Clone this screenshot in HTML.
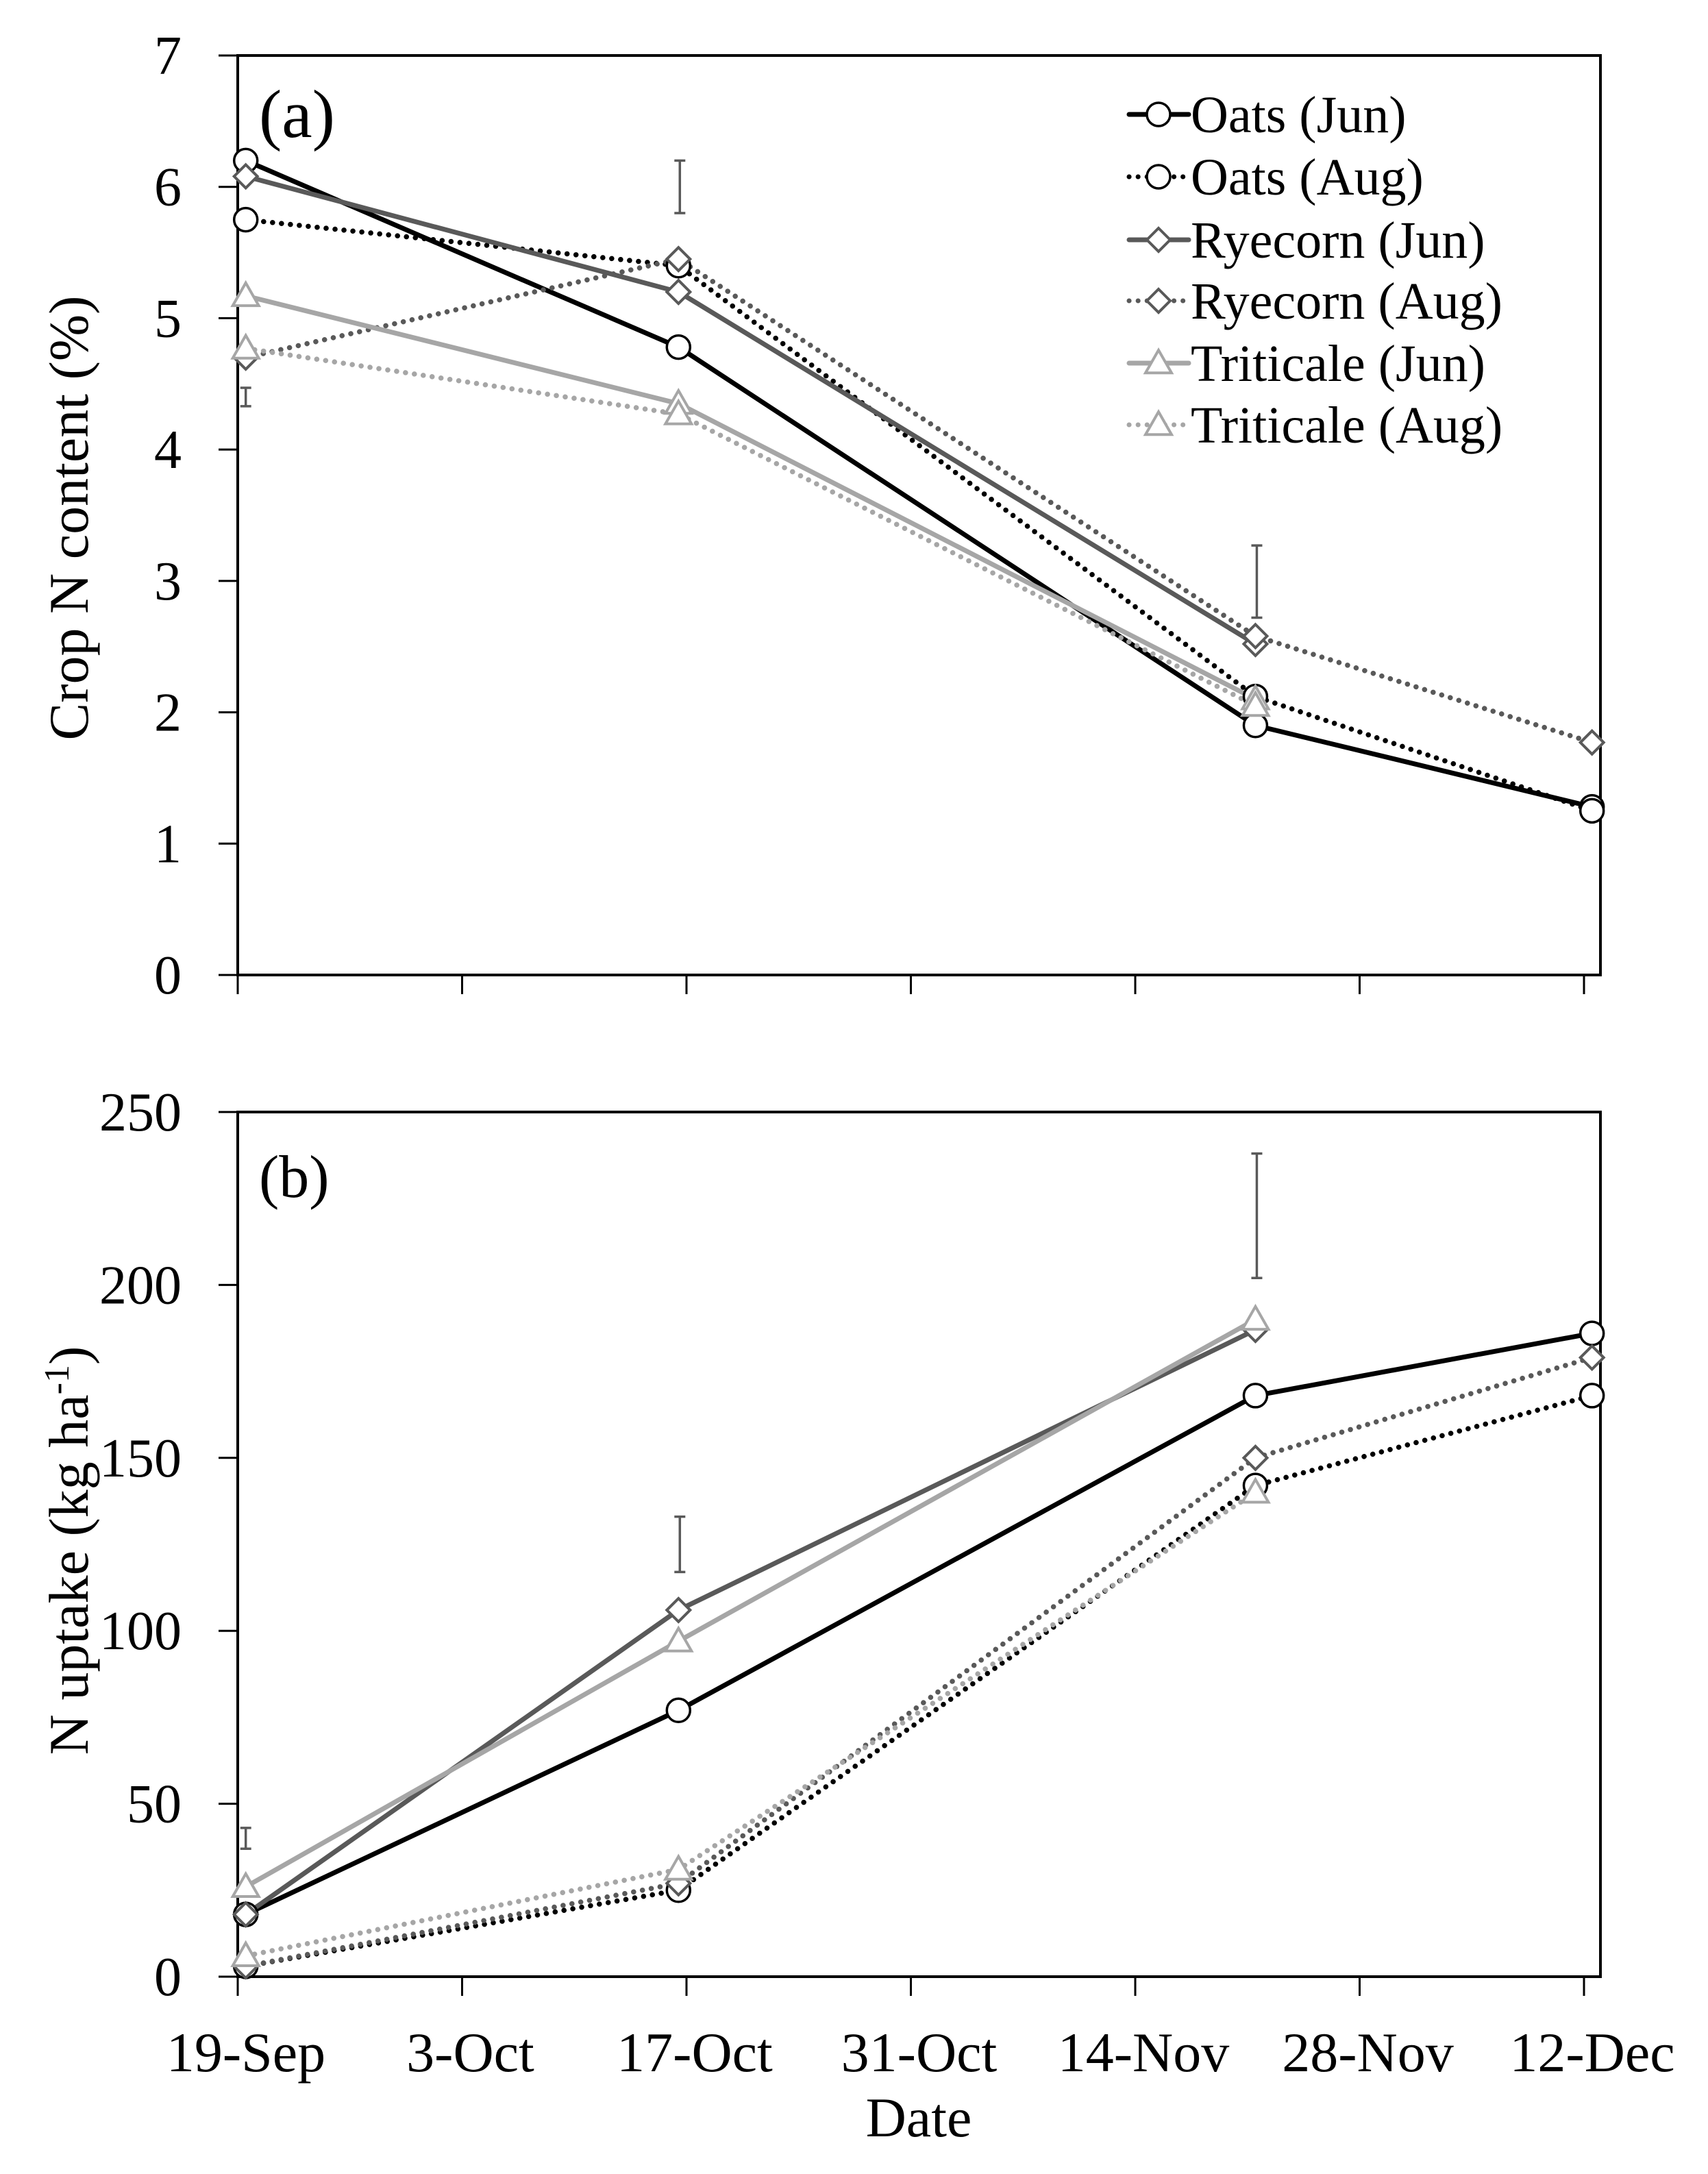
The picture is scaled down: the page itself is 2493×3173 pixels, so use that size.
<!DOCTYPE html>
<html><head><meta charset="utf-8"><style>
html,body{margin:0;padding:0;background:#fff;}
svg{display:block;font-family:"Liberation Serif",serif;}
</style></head>
<body>
<svg id="chart" width="2493" height="3173" viewBox="0 0 2493 3173" xmlns="http://www.w3.org/2000/svg">
<rect width="2493" height="3173" fill="#fff"/>
<g id="layer"></g>
</svg>
<script>
// ---- data ----
const dayOffsets = [0.5, 27.5, 63.5, 84.5];
const xTickLabels = ["19-Sep","3-Oct","17-Oct","31-Oct","14-Nov","28-Nov","12-Dec"];
const xTickDays = [0,14,28,42,56,70,84];
const seriesNames = ["Oats (Jun)","Oats (Aug)","Ryecorn (Jun)","Ryecorn (Aug)","Triticale (Jun)","Triticale (Aug)"];
// panel a: Crop N content (%)
const aOatsJun = [6.2, 4.78, 1.9, 1.28];
const aOatsAug = [5.75, 5.4, 2.12, 1.25];
const aRyeJun = [6.08, 5.2, 2.52];
const aRyeAug = [4.7, 5.45, 2.58, 1.77];
const aTriJun = [5.17, 4.35, 2.1];
const aTriAug = [4.77, 4.27, 2.05];
const aErrLow = [4.33, 5.8, 2.72];
const aErrHigh = [4.47, 6.2, 3.27];
const aTicks = [0,1,2,3,4,5,6,7];
// panel b: N uptake (kg/ha)
const bOatsJun = [18, 77, 168, 186];
const bOatsAug = [3, 25, 142, 168];
const bRyeJun = [18, 106, 187];
const bRyeAug = [3, 27, 150, 179];
const bTriJun = [26, 97, 190];
const bTriAug = [6, 31, 140];
const bErrLow = [37, 117, 202];
const bErrHigh = [43, 133, 238];
const bTicks = [0,50,100,150,200,250];

const NS = "http://www.w3.org/2000/svg";
const layer = document.getElementById('layer');
function mk(tag, attrs, parent){
  const e = document.createElementNS(NS, tag);
  for (const k in attrs) e.setAttribute(k, attrs[k]);
  (parent||layer).appendChild(e);
  return e;
}
const X0 = 347, X1 = 2336, DAYPX = (2312-347)/84;
function xScale(d){ return X0 + d*DAYPX; }

const styles = [
  {c:"#000", dash:null, m:"circle"},
  {c:"#000", dash:"0.1 13", m:"circle"},
  {c:"#595959", dash:null, m:"diamond"},
  {c:"#595959", dash:"0.1 13", m:"diamond"},
  {c:"#a6a6a6", dash:null, m:"triangle"},
  {c:"#a6a6a6", dash:"0.1 13", m:"triangle"}
];

function marker(g, type, x, y, color){
  let e;
  if (type==="circle"){
    e = mk('circle',{cx:x,cy:y,r:17,fill:"#fff",stroke:"#000","stroke-width":3.5},g);
  } else if (type==="diamond"){
    const r=17;
    e = mk('polygon',{points:`${x},${y-r} ${x+r},${y} ${x},${y+r} ${x-r},${y}`,fill:"#fff",stroke:color,"stroke-width":4},g);
  } else {
    const r=19;
    e = mk('polygon',{points:`${x},${y-r} ${x+r},${y+r*0.75} ${x-r},${y+r*0.75}`,fill:"#fff",stroke:color,"stroke-width":4},g);
  }
  
  
}

function panel(id, yTop, yBot, ymax, ticks, series, errLo, errHi, label, title, titleY, showX){
  const g = mk('g',{});
  
  
  const yS = v => yBot - (v/ymax)*(yBot-yTop);
  const fr = mk('rect',{x:X0,y:yTop,width:X1-X0,height:yBot-yTop,fill:"none",stroke:"#000","stroke-width":4},g);
  
  
  ticks.forEach(t=>{
    const y=yS(t);
    mk('line',{x1:319,x2:X0,y1:y,y2:y,stroke:"#000","stroke-width":3},g);
    const tx = mk('text',{x:265,y:y+27,"text-anchor":"end","font-size":80,fill:"#000"},g);
    tx.textContent = t;
    
    
  });
  xTickDays.forEach((d,i)=>{
    const x=xScale(d);
    mk('line',{x1:x,x2:x,y1:yBot,y2:yBot+28,stroke:"#000","stroke-width":3},g);
    if (showX){
      const tx = mk('text',{x:x+12,y:3023,"text-anchor":"middle","font-size":82,fill:"#000"},g);
      tx.textContent = xTickLabels[i];
      
      
    }
  });
  errLo.forEach((lo,i)=>{
    const x = xScale(dayOffsets[i]) + (i===0?0:2);
    const y1=yS(lo), y2=yS(errHi[i]);
    const eb = mk('g',{stroke:"#595959","stroke-width":3.5},g);
    
    
    mk('line',{x1:x,x2:x,y1:y1,y2:y2},eb);
    mk('line',{x1:x-8,x2:x+8,y1:y1,y2:y1},eb);
    mk('line',{x1:x-8,x2:x+8,y1:y2,y2:y2},eb);
  });
  series.forEach((vals,si)=>{
    const st = styles[si];
    const pts = vals.map((v,i)=>`${xScale(dayOffsets[i])},${yS(v)}`).join(' ');
    const pl = mk('polyline',{points:pts,fill:"none",stroke:st.c,"stroke-width":st.dash?7.5:7,"stroke-linecap":"round","stroke-linejoin":"round"},g);
    if (st.dash) pl.setAttribute('stroke-dasharray', st.dash);
    
    
  });
  series.forEach((vals,si)=>{
    vals.forEach((v,i)=> marker(g, styles[si].m, xScale(dayOffsets[i]), yS(v), styles[si].c));
  });
  const lb = mk('text',{x:378,y:label==="(a)"?200:1747,"font-size":label==="(a)"?100:88,fill:"#000"},g);
  lb.textContent = label;
  
  
  const yt = mk('text',{x:0,y:0,"text-anchor":"middle","font-size":82,fill:"#000",transform:`translate(128,${titleY}) rotate(-90)`},g);
  yt.innerHTML = title;
  
  
  return g;
}

panel('panel-a-n-content', 81, 1423, 7, aTicks,
  [aOatsJun,aOatsAug,aRyeJun,aRyeAug,aTriJun,aTriAug], aErrLow, aErrHigh,
  "(a)", "Crop N content (%)", 756, false);
panel('panel-b-n-uptake', 1623, 2885, 250, bTicks,
  [bOatsJun,bOatsAug,bRyeJun,bRyeAug,bTriJun,bTriAug], bErrLow, bErrHigh,
  "(b)", 'N uptake (kg ha<tspan dy="-28" font-size="52">-1</tspan><tspan dy="28">)</tspan>', 2263, true);

const xt = mk('text',{x:1341,y:3118,"text-anchor":"middle","font-size":82,fill:"#000"});
xt.textContent = "Date";



const leg = mk('g',{});


const legY = [167,258,350,439,530,620];
seriesNames.forEach((n,i)=>{
  const st = styles[i];
  const ent = mk('g',{},leg);
  
  
  const y = legY[i];
  const ln = mk('line',{x1:1648,x2:1735,y1:y,y2:y,stroke:st.c,"stroke-width":7,"stroke-linecap":"round"},ent);
  if (st.dash) ln.setAttribute('stroke-dasharray','0.1 13');
  marker(ent, st.m, 1691, y, st.c);
  const t = mk('text',{x:1738,y:y+26,"font-size":76,fill:"#000"},ent);
  t.textContent = n;
});
</script>
</body></html>
